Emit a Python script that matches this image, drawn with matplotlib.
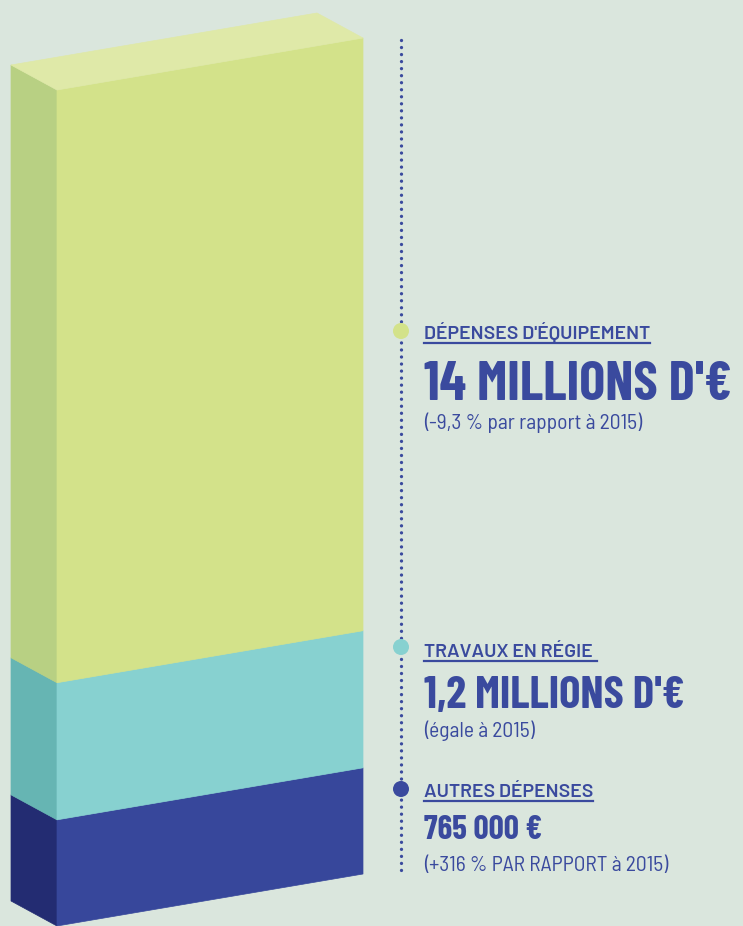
import numpy as np
import matplotlib.pyplot as plt
from matplotlib.patches import Polygon, Circle

# Data (bottom to top)
titles = ["AUTRES DÉPENSES", "TRAVAUX EN RÉGIE ", "DÉPENSES D'ÉQUIPEMENT"]
amounts = ["765 000 €", "1,2 MILLIONS D'€", "14 MILLIONS D'€"]
notes = ["(+316 % PAR RAPPORT à 2015)", "(égale à 2015)", "(-9,3 % par rapport à 2015)"]
# share of the drawn column taken by each block (as drawn in the original)
block_share = [0.127, 0.164, 0.709]

front_colors = ["#37479b", "#87d1d0", "#d3e28a"]
side_colors = ["#232c72", "#66b5b3", "#b8d083"]
top_color = "#dfe9a8"
bg = "#dae6dd"
ink = "#3a4a9e"

W, H = 743, 926
fig = plt.figure(figsize=(W / 100, H / 100), dpi=100, facecolor=bg)
ax = fig.add_axes([0, 0, 1, 1])
ax.set_xlim(0, W)
ax.set_ylim(H, 0)
ax.axis("off")
ax.set_facecolor(bg)

# column geometry (pixel space)
x0, x1 = 57, 363
base_y = 926
col_h = 836
slope = -52 / 306
dx, dy = -46, -25

cum = np.concatenate([[0], np.cumsum(block_share)]) * col_h
rise = slope * (x1 - x0)
for i in range(len(block_share)):
    yb = base_y - cum[i]
    yt = base_y - cum[i + 1]
    front = [(x0, yb), (x1, yb + rise), (x1, yt + rise), (x0, yt)]
    side = [(x0, yb), (x0 + dx, yb + dy), (x0 + dx, yt + dy), (x0, yt)]
    ax.add_patch(Polygon(side, closed=True, fc=side_colors[i], ec=side_colors[i], lw=0.5))
    ax.add_patch(Polygon(front, closed=True, fc=front_colors[i], ec=front_colors[i], lw=0.5))
    if i == len(block_share) - 1:
        top = [(x0, yt), (x1, yt + rise), (x1 + dx, yt + rise + dy), (x0 + dx, yt + dy)]
        ax.add_patch(Polygon(top, closed=True, fc=top_color, ec=top_color, lw=0.5))

# dotted guide line
lx = 401
ax.plot([lx, lx], [40, 873], color=ink, lw=2.4, linestyle=(0, (0.01, 2.1)),
        dash_capstyle="round")

big_font = ["Barlow Condensed", "DejaVu Sans"]
title_font = ["Barlow", "DejaVu Sans"]
note_font = ["Barlow Semi Condensed", "DejaVu Sans"]
tx = 424
dot_y = [789, 647, 331]
title_y = [797, 657, 339]
amount_y = [839, 708, 400]
amount_size = [24, 32.5, 39.5]
note_y = [871, 737, 429]

title_objs = []
for i in range(3):
    ax.add_patch(Circle((lx, dot_y[i]), 8, fc=front_colors[i] if i else ink, ec="none", zorder=3))
    t = ax.text(tx, title_y[i], titles[i], family=title_font, weight="semibold", fontsize=14,
                color=ink, va="baseline", ha="left")
    title_objs.append(t)
    ax.text(tx, amount_y[i], amounts[i], family=big_font, weight="bold", fontsize=amount_size[i],
            color=ink, va="baseline", ha="left")
    ax.text(tx, note_y[i], notes[i], family=note_font, weight="normal", fontsize=15.5, color=ink,
            va="baseline", ha="left")

# underline the titles
fig.canvas.draw()
r = fig.canvas.get_renderer()
inv = ax.transData.inverted()
for i, t in enumerate(title_objs):
    bb = t.get_window_extent(renderer=r)
    (xa, _), (xb, _) = inv.transform([(bb.x0, bb.y0), (bb.x1, bb.y0)])
    ax.plot([tx, xb], [title_y[i] + 4, title_y[i] + 4], color=ink, lw=1.6)

fig.savefig("out.png", dpi=100, facecolor=bg)
